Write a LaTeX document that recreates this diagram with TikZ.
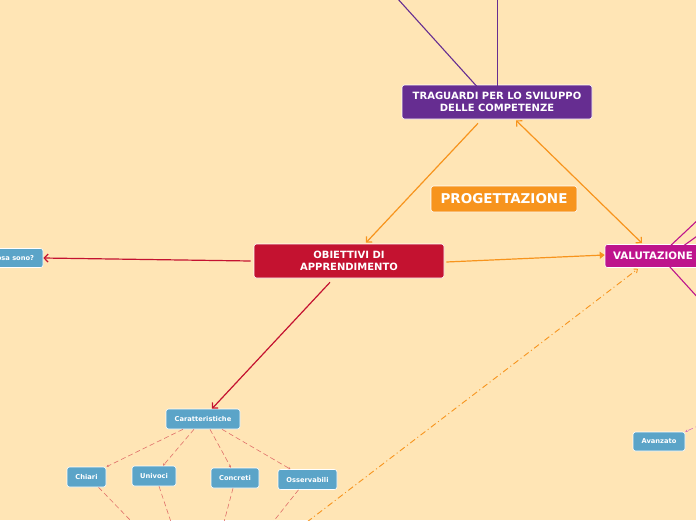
\documentclass[tikz,border=0pt]{standalone}
\usepackage{fontspec}
\setmainfont{DejaVu Sans}
\usetikzlibrary{arrows.meta}
\definecolor{bg}{HTML}{FFE5B5}
\definecolor{purp}{HTML}{662D91}
\definecolor{orng}{HTML}{F7941D}
\definecolor{crim}{HTML}{C41230}
\definecolor{magn}{HTML}{BE148C}
\definecolor{blu}{HTML}{5BA4C8}
\definecolor{dsh}{HTML}{E0706A}
\tikzset{
  box/.style={draw=white, line width=0.6pt, rounded corners=2.5pt, text=white, font=\bfseries, align=center, inner sep=0pt},
  bigbox/.style={box, font=\fontsize{10}{11.5}\selectfont\bfseries},
  small/.style={box, fill=blu, font=\fontsize{6.7}{8}\selectfont\bfseries, minimum height=19pt},
  conn/.style={line width=1.2pt, -{Straight Barb[length=4pt,width=8pt]}},
  thin/.style={line width=1.1pt},
  dsl/.style={draw=dsh, line width=0.6pt, dash pattern=on 5pt off 3pt},
  dsa/.style={dsl, -{Stealth[length=2.5pt,width=2.5pt]}},
}
\begin{document}
\begin{tikzpicture}[x=1pt,y=-1pt]
\fill[bg] (0,0) rectangle (696,520);
\useasboundingbox (0,0) rectangle (696,520);

% nodes
\node[bigbox, fill=purp, minimum width=190pt, minimum height=34pt] (trag) at (497,102) {TRAGUARDI PER LO SVILUPPO\\DELLE COMPETENZE};
\node[box, fill=orng, font=\fontsize{13.5}{15}\selectfont\bfseries, minimum width=146pt, minimum height=26pt] (prog) at (504,199) {PROGETTAZIONE};
\node[bigbox, fill=crim, minimum width=190pt, minimum height=34pt] (obi) at (349,261) {OBIETTIVI DI\\APPRENDIMENTO};
\node[box, fill=magn, font=\fontsize{10.3}{12}\selectfont\bfseries, minimum width=96pt, minimum height=23pt] (val) at (653,256) {VALUTAZIONE};
\node[small, minimum width=60pt] (cosa) at (13,258) {Cosa sono?};
\node[small, minimum width=74pt, minimum height=20pt] (car) at (203,419) {Caratteristiche};
\node[small, minimum width=39pt, minimum height=20pt] (chi) at (86.5,477) {Chiari};
\node[small, minimum width=44pt, minimum height=20pt] (uni) at (154,476) {Univoci};
\node[small, minimum width=48pt, minimum height=20pt] (con) at (235,478) {Concreti};
\node[small, minimum width=59pt, minimum height=20pt] (oss) at (307.5,479.5) {Osservabili};
\node[small, minimum width=52pt, minimum height=19pt] (ava) at (659,441.5) {Avanzato};

% free ends
\coordinate (t1) at (397,-2);
\coordinate (t2) at (497.5,-2);
\coordinate (v1) at (700,218);
\coordinate (v2) at (700,234);
\coordinate (v3) at (700,300);
\coordinate (a1) at (700,425);
\coordinate (db) at (307,522);
\coordinate (c1) at (132,522);
\coordinate (u1) at (171,522);
\coordinate (k1) at (224,522);
\coordinate (o1) at (273,522);

% purple lines
\draw[purp, thin] ([xshift=-19pt,yshift=-3pt]trag.north) -- (t1);
\draw[purp, thin] ([xshift=0.5pt,yshift=-4pt]trag.north) -- (t2);

% orange connectors
\draw[orng, conn] ([xshift=-19pt,yshift=-4pt]trag.south) -- ([xshift=17pt,yshift=1pt]obi.north);
\draw[orng, line width=1.2pt, {Straight Barb[length=4pt,width=8pt]}-{Straight Barb[length=4pt,width=8pt]}] ([xshift=19pt,yshift=-1pt]trag.south) -- ([xshift=-11pt,yshift=1pt]val.north);
\draw[orng, line width=1.2pt, -{Triangle[length=5pt,width=7pt]}] ([xshift=2pt,yshift=-1pt]obi.east) -- ([yshift=1pt]val.west);
\draw[orng, line width=0.9pt, dash pattern=on 6pt off 3pt on 1pt off 3pt, -{Straight Barb[length=3pt,width=5pt]}] (db) -- ([xshift=-15pt,yshift=-1pt]val.south);

% crimson connectors
\draw[crim, conn] ([xshift=-3pt]obi.west) -- (cosa.east);
\draw[crim, conn] ([xshift=-19pt,yshift=-4pt]obi.south) -- ([xshift=9pt]car.north);

% magenta lines
\draw[magn, thin] ([xshift=18pt,yshift=-1pt]val.north) -- (v1);
\draw[magn, thin] ([xshift=30pt,yshift=-2pt]val.north) -- (v2);
\draw[magn, thin] ([xshift=15pt,yshift=3pt]val.south) -- (v3);

% dashed
\draw[dsa] ([xshift=-20pt]car.south) -- ([xshift=20pt]chi.north);
\draw[dsa] ([xshift=-9pt]car.south) -- ([xshift=9pt]uni.north);
\draw[dsa] ([xshift=7pt]car.south) -- ([xshift=-4pt]con.north);
\draw[dsa] ([xshift=19pt]car.south) -- ([xshift=-17pt]oss.north);
\draw[dsl] ([xshift=12pt]chi.south) -- (c1);
\draw[dsl] ([xshift=5pt]uni.south) -- (u1);
\draw[dsl] ([xshift=-2pt]con.south) -- (k1);
\draw[dsl] ([xshift=-9pt]oss.south) -- (o1);
\draw[draw=magn!60, line width=0.6pt, dash pattern=on 5pt off 3pt, -{Stealth[length=2.5pt,width=2.5pt]}] (a1) -- (ava.north east);
\end{tikzpicture}
\end{document}
